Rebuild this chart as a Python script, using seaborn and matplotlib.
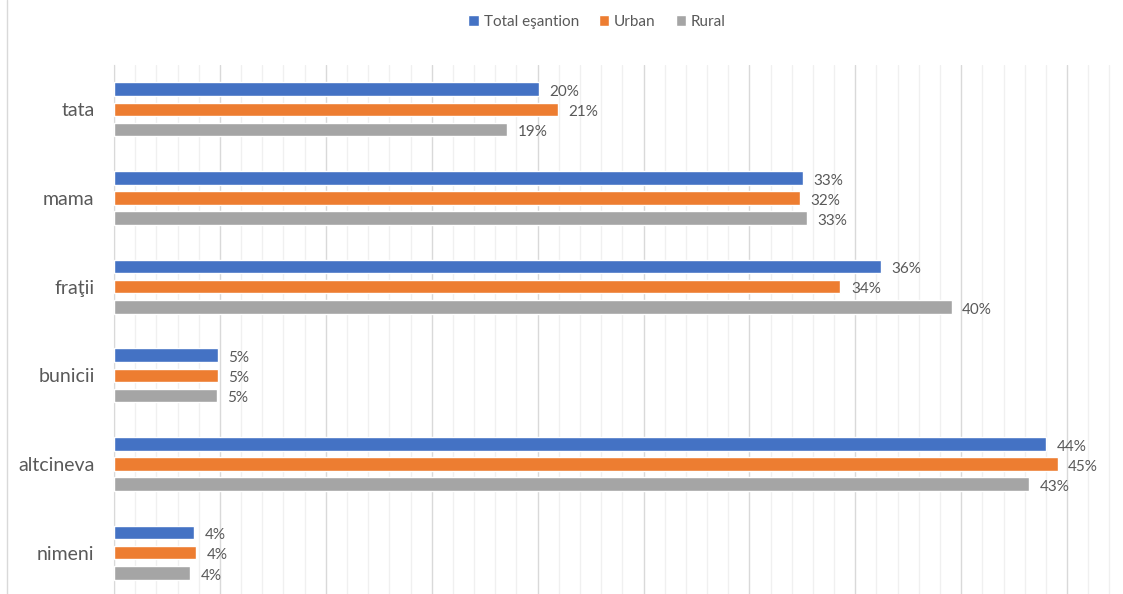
import numpy as np
import pandas as pd
import matplotlib
matplotlib.use("Agg")
import matplotlib.pyplot as plt
from matplotlib.lines import Line2D
import seaborn as sns

CATEGORIES = ["tata", "mama", "fraţii", "bunicii", "altcineva", "nimeni"]
SERIES = ["Total eşantion", "Urban", "Rural"]
TOTAL = [20.07, 32.55, 36.2, 4.89, 44.0, 3.78]
URBAN = [20.96, 32.4, 34.3, 4.89, 44.55, 3.87]
RURAL = [18.55, 32.7, 39.55, 4.84, 43.2, 3.6]
COLORS = ["#4472C4", "#ED7D31", "#A5A5A5"]
TEXT = "#595959"

df = pd.DataFrame({
    "cat": CATEGORIES * 3,
    "serie": sum([[s] * len(CATEGORIES) for s in SERIES], []),
    "val": TOTAL + URBAN + RURAL,
})

sns.set_style("white")
plt.rcParams["font.family"] = ["Lato", "DejaVu Sans"]

# 1% is about 21.18 px in the reference
XMAX = 47.1
ax_w = XMAX * 21.18
fig = plt.figure(figsize=(11.23, 5.94), dpi=100)
ax = fig.add_axes([114 / 1123, -3 / 594, ax_w / 1123, (597 - 65) / 594])

sns.barplot(data=df, y="cat", x="val", hue="serie", order=CATEGORIES,
            hue_order=SERIES, palette=COLORS, orient="h", width=0.68,
            gap=0.32, saturation=1, ax=ax, zorder=3)

for cont in ax.containers:
    vals = [b.get_width() for b in cont]
    txts = ax.bar_label(cont, labels=[f"{v:.0f}%" for v in vals],
                        padding=7.5, fontsize=11, color=TEXT)
    for t in txts:
        t.xyann = (t.xyann[0], -2)

ax.set_xlim(0, XMAX)
ax.set_ylim(5.5, -0.5)
ax.set_xticks(np.arange(0, 47, 5))
ax.set_xticks(np.arange(0, 48, 1), minor=True)
ax.grid(axis="x", which="major", color="#D9D9D9", lw=1, zorder=0)
ax.grid(axis="x", which="minor", color="#F0F0F0", lw=1, zorder=0)
ax.tick_params(axis="x", which="both", length=0, labelbottom=False)
ax.set_yticks(np.arange(-0.5, 6, 1), minor=True)
ax.tick_params(axis="y", which="minor", length=5.5, color="#D9D9D9", width=1)
ax.tick_params(axis="y", which="major", length=0, pad=14, labelsize=14,
               labelcolor=TEXT)
ax.set_xlabel("")
ax.set_ylabel("")
for s in ["top", "right", "bottom"]:
    ax.spines[s].set_visible(False)
ax.spines["left"].set_color("#D9D9D9")

handles, labels = ax.get_legend_handles_labels()
ax.get_legend().remove()
fig.legend(handles, labels, ncol=3, frameon=False, loc="center",
           bbox_to_anchor=(597 / 1123, 1 - 22 / 594), fontsize=11,
           labelcolor=TEXT, handlelength=0.7, handleheight=0.7,
           handletextpad=0.3, columnspacing=1.3)

fig.add_artist(Line2D([7 / 1123, 7 / 1123], [0, 1], color="#D9D9D9", lw=1,
                      transform=fig.transFigure))

fig.savefig("out.png", dpi=100)
